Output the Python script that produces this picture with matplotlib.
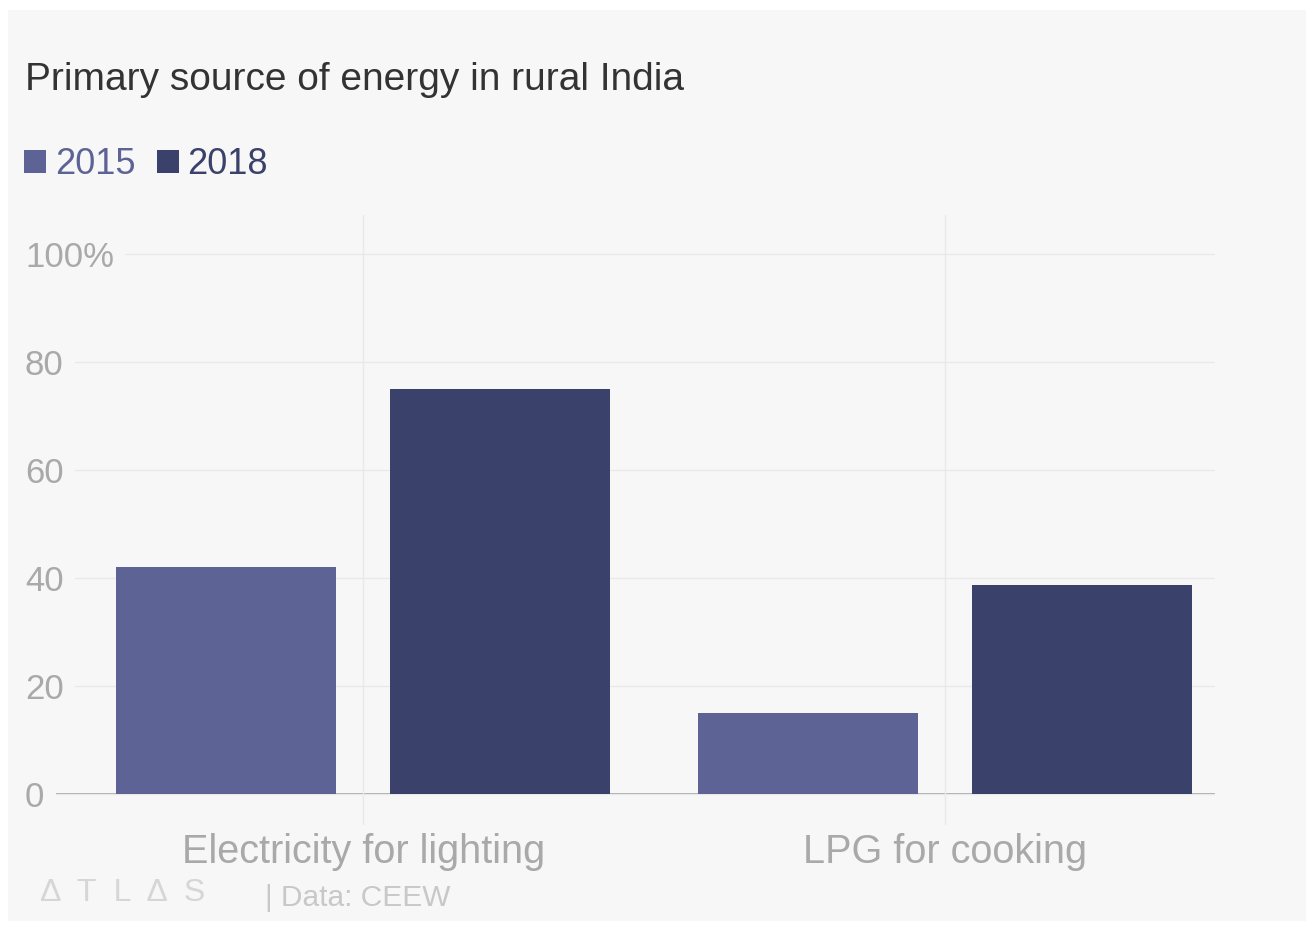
import numpy as np
import matplotlib
matplotlib.use("Agg")
from matplotlib import pyplot as plt
from matplotlib.patches import Rectangle

plt.rcParams['font.family'] = ['Liberation Sans Narrow', 'Liberation Sans', 'DejaVu Sans']

# data (percent of rural households)
categories = ["Electricity for lighting", "LPG for cooking"]
years = ["2015", "2018"]
share_2015 = [42, 15]
share_2018 = [75, 38.7]
y_ticks = [0, 20, 40, 60, 80, 100]
y_tick_labels = ["0", "20", "40", "60", "80", "100%"]

BG = "#f7f7f7"
COL_2015 = "#5d6395"
COL_2018 = "#3a416b"
GRID = "#e9e9e9"
LABEL = "#a9a9a9"

W, H = 1314, 925
fig = plt.figure(figsize=(W / 100, H / 100), dpi=100, facecolor="white")
# light grey card with a thin white border, like the screenshot
fig.patches.append(Rectangle((8 / W, 4 / H), (1306 - 8) / W, (915 - 4) / H,
                             transform=fig.transFigure, facecolor=BG,
                             edgecolor="none", zorder=-5))

ax = fig.add_axes([25 / W, (H - 825) / H, (1215 - 25) / W, (825 - 215) / H])
ax.set_facecolor("none")
ax.set_zorder(1)

x = np.arange(len(categories))
bar_w = 0.378
off = 0.2354
ax.bar(x - off, share_2015, bar_w, color=COL_2015, label=years[0], zorder=2)
ax.bar(x + off, share_2018, bar_w, color=COL_2018, label=years[1], zorder=2)

ax.set_xlim(-0.5816, 1.4631)
ax.set_ylim(-5.74, 107.2)

for s in ax.spines.values():
    s.set_visible(False)

# baseline
ax.axhline(0, color="#9a9a9a", lw=1.2, zorder=1)

ax.set_yticks(y_ticks)
ax.set_yticklabels(y_tick_labels)
ax.tick_params(axis="y", length=0, pad=0, labelsize=25, labelcolor=LABEL)
for t in ax.get_yticklabels():
    t.set_horizontalalignment("left")
    t.set_bbox(dict(boxstyle="square,pad=0.33", facecolor=BG, edgecolor="none"))
ax.yaxis.grid(True, color=GRID, lw=1)

ax.set_xticks(x)
ax.set_xticklabels(categories)
ax.tick_params(axis="x", length=0, pad=6, labelsize=28.5, labelcolor=LABEL)
ax.xaxis.grid(True, color=GRID, lw=1)

fig.text(25 / W, 1 - 80 / H, "Primary source of energy in rural India",
         fontsize=28, color="#333333", ha="left", va="center")

fig.legend(loc="center left", bbox_to_anchor=(24 / W, 1 - 165 / H), ncol=2,
           frameon=False, fontsize=26, handlelength=0.6, handleheight=0.6,
           handletextpad=0.25, columnspacing=0.6, borderpad=0, borderaxespad=0,
           labelcolor=[COL_2015, COL_2018])

fig.text(40 / W, 1 - 893 / H, "\u0394  T  L  \u0394  S", fontsize=23, color="#d6d6d6",
         ha="left", va="center")
fig.text(265 / W, 1 - 898 / H, "| Data: CEEW", fontsize=21.5, color="#c8c8c8",
         ha="left", va="center")

fig.savefig("out.png", dpi=100, facecolor=fig.get_facecolor())
